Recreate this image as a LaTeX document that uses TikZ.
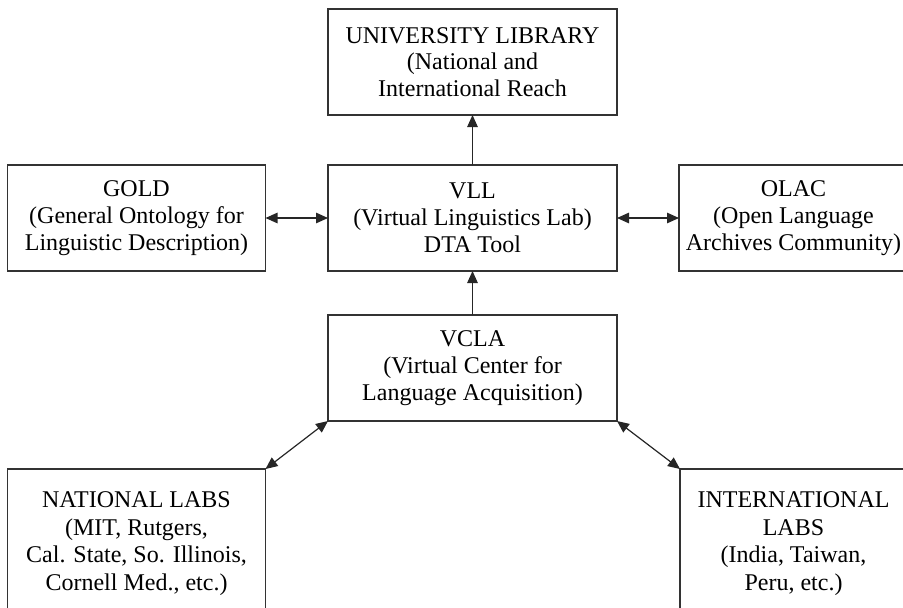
\documentclass[tikz,border=0pt]{standalone}
\usepackage{fontspec}
\setmainfont{Liberation Serif}
\usetikzlibrary{arrows.meta}
\begin{document}
\begin{tikzpicture}[x=1pt,y=-1pt,
  box/.style={draw=black!80, line width=1.4pt, align=center, inner sep=0pt, outer sep=0pt,
    font=\fontsize{24}{26.8}\selectfont, text=black},
  link/.style={line width=1.2pt, draw=black!85, {Triangle[length=12pt,width=10.5pt]}-{Triangle[length=12pt,width=10.5pt]}},
  uplink/.style={line width=1.2pt, draw=black!85, -{Triangle[length=12pt,width=10.5pt]}}]
\useasboundingbox (0,0) rectangle (903,608);
\clip (0,0) rectangle (903,608);
\node[box, minimum width=289pt, minimum height=106pt] (ul) at (472.5,62) {UNIVERSITY LIBRARY\\(National and\\International Reach};
\node[box, minimum width=289pt, minimum height=106pt] (vll) at (472.5,218) {VLL\\(Virtual Linguistics Lab)\\DTA Tool};
\node[box, minimum width=289pt, minimum height=106pt] (vcla) at (472.5,368) {VCLA\\(Virtual Center for\\Language Acquisition)};
\node[box, minimum width=258pt, minimum height=106pt] (gold) at (136.5,218) {GOLD\\(General Ontology for\\Linguistic Description)};
\node[box, minimum width=229pt, minimum height=106pt] (olac) at (793.5,218) {OLAC\\(Open Language\\Archives Community)};
\node[box, minimum width=258pt, minimum height=149pt, font=\fontsize{24}{27.6}\selectfont] (nat) at (136.5,543.5) {NATIONAL LABS\\(MIT, Rutgers,\\Cal. State, So. Illinois,\\Cornell Med., etc.)};
\node[box, minimum width=227pt, minimum height=149pt, font=\fontsize{24}{27.6}\selectfont] (int) at (793.5,543.5) {INTERNATIONAL\\LABS\\(India, Taiwan,\\Peru, etc.)};
\draw[uplink] (vll.north) -- (ul.south);
\draw[uplink] (vcla.north) -- (vll.south);
\draw[link] (gold.east) -- (vll.west);
\draw[link] (vll.east) -- (olac.west);
\draw[link] (vcla.south west) -- (nat.north east);
\draw[link] (vcla.south east) -- (int.north west);
\end{tikzpicture}
\end{document}
